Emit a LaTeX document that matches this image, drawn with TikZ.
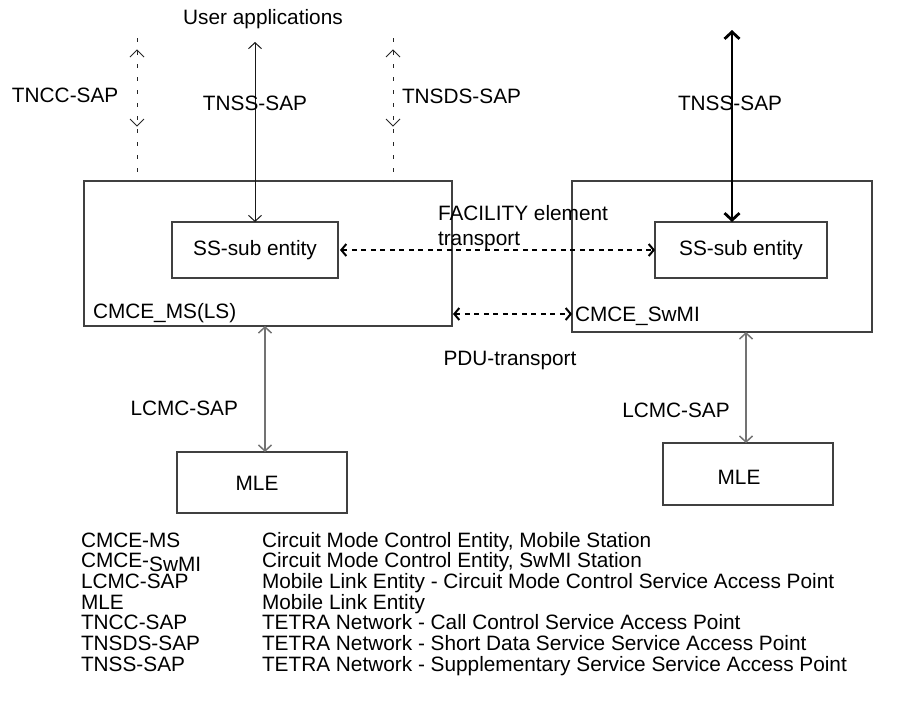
\documentclass[tikz,border=0pt]{standalone}
\usepackage{fontspec}
\setmainfont{Liberation Sans}
\usetikzlibrary{arrows.meta}

\begin{document}
\begin{tikzpicture}[x=1pt,y=-1pt,
  txt/.style={font=\fontsize{20.8}{25}\selectfont, inner sep=0pt, outer sep=0pt},
  box/.style={draw=black!75, line width=1.2pt, inner sep=0pt, outer sep=0pt},
  sap/.style={draw=black!90, line width=1pt, {Straight Barb[length=6pt,width=13pt]}-{Straight Barb[length=6pt,width=13pt]}},
  lcmc/.style={draw=black!55, line width=1.5pt, {Straight Barb[length=6pt,width=13pt]}-{Straight Barb[length=6pt,width=13pt]}},
  bigsap/.style={draw=black, line width=2.8pt, {Straight Barb[length=7pt,width=15pt]}-{Straight Barb[length=7pt,width=15pt]}},
  peer/.style={draw=black, line width=2pt, dash pattern=on 5pt off 4.5pt,
    {Straight Barb[length=5pt,width=12pt]}-{Straight Barb[length=5pt,width=12pt]}},
  sapdash/.style={draw=black!85, line width=1pt, dash pattern=on 4pt off 9pt},
  tip/.style={draw=black!85, line width=1pt}
]
\useasboundingbox (0,0) rectangle (901,702);

% entity boxes
\node[box, minimum width=368pt, minimum height=145pt, anchor=north west] (ms) at (84,181) {};
\node[box, minimum width=300pt, minimum height=151pt, anchor=north west] (sw) at (572,181) {};
\node[box, minimum width=166pt, minimum height=56pt, anchor=north west, txt] (ss1) at (172,222) {SS-sub entity};
\node[box, minimum width=172pt, minimum height=56pt, anchor=north west, txt] (ss2) at (655,222) {SS-sub entity};
\node[box, minimum width=170pt, minimum height=61pt, anchor=north west] (mle1) at (177,452) {};
\node[box, minimum width=170pt, minimum height=62pt, anchor=north west] (mle2) at (663,443) {};
\node[txt, anchor=base] (mle1t) at (257,490) {MLE};
\node[txt, anchor=base] (mle2t) at (739,484) {MLE};

% entity names
\node[txt, anchor=base west] (msname) at (93,318) {CMCE\_MS(LS)};
\node[txt, anchor=base west] (swname) at (575,321) {CMCE\_SwMI};

% service access points above the mobile station
\node[txt, anchor=base] (user) at (263,24.5) {User applications};
\coordinate (tnssTop) at (255,42);
\draw[sap] (tnssTop) -- (ss1.north);
\node[txt, anchor=base] (tnssL) at (255,110) {TNSS-SAP};

\coordinate (tnccTop) at (137,38);
\draw[sapdash] (tnccTop) -- (tnccTop |- ms.north);
\coordinate (tnccUp) at (137,50);
\coordinate (tnccDn) at (137,126);
\draw[tip] ([shift={(-7,7)}]tnccUp) -- (tnccUp) -- ([shift={(7,7)}]tnccUp);
\draw[tip] ([shift={(-7,-7)}]tnccDn) -- (tnccDn) -- ([shift={(7,-7)}]tnccDn);
\node[txt, anchor=base west] (tncc) at (12,102) {TNCC-SAP};

\coordinate (tnsdsTop) at (393,38);
\draw[sapdash] (tnsdsTop) -- (tnsdsTop |- ms.north);
\coordinate (tnsdsUp) at (393,50);
\coordinate (tnsdsDn) at (393,126);
\draw[tip] ([shift={(-7,7)}]tnsdsUp) -- (tnsdsUp) -- ([shift={(7,7)}]tnsdsUp);
\draw[tip] ([shift={(-7,-7)}]tnsdsDn) -- (tnsdsDn) -- ([shift={(7,-7)}]tnsdsDn);
\node[txt, anchor=base west] (tnsds) at (402,103) {TNSDS-SAP};

% service access point above the SwMI
\coordinate (tnssRTop) at (732,30);
\draw[bigsap] (tnssRTop) -- (tnssRTop |- ss2.north);
\node[txt, anchor=base] (tnssR) at (730,110) {TNSS-SAP};

% peer-to-peer transport
\draw[peer] ([xshift=2pt]ss1.east) -- (ss2.west);
\node[txt, anchor=base west] (fac) at (438,220) {FACILITY element};
\node[txt, anchor=base west] (fac2) at (438,245) {transport};
\coordinate (pdu) at (510,314);
\draw[peer] ([xshift=1pt]ms.east |- pdu) -- (sw.west |- pdu);
\node[txt, anchor=base] (pdulbl) at (510,365) {PDU-transport};

% link entity access points
\coordinate (lc1) at (265,400);
\draw[lcmc] (ms.south -| lc1) -- (mle1.north -| lc1);
\node[txt, anchor=base east] (lcmcL) at (238,415) {LCMC-SAP};
\coordinate (lc2) at (746,400);
\draw[lcmc] (sw.south -| lc2) -- (mle2.north -| lc2);
\node[txt, anchor=base] (lcmcR) at (676,417) {LCMC-SAP};

% abbreviations
\foreach \i/\ab/\txt in {
  0/CMCE-MS/{Circuit Mode Control Entity, Mobile Station},
  1/{CMCE-\raisebox{-4pt}{SwMI}}/{Circuit Mode Control Entity, SwMI Station},
  2/LCMC-SAP/{Mobile Link Entity - Circuit Mode Control Service Access Point},
  3/MLE/{Mobile Link Entity},
  4/TNCC-SAP/{TETRA Network - Call Control Service Access Point},
  5/TNSDS-SAP/{TETRA Network - Short Data Service Service Access Point},
  6/TNSS-SAP/{TETRA Network - Supplementary Service Service Access Point}} {
  \node[txt, anchor=base west] (ab\i) at (81,547+20.7*\i) {\ab};
  \node[txt, anchor=base west] (def\i) at (262,547+20.7*\i) {\txt};
}
\end{tikzpicture}
\end{document}
